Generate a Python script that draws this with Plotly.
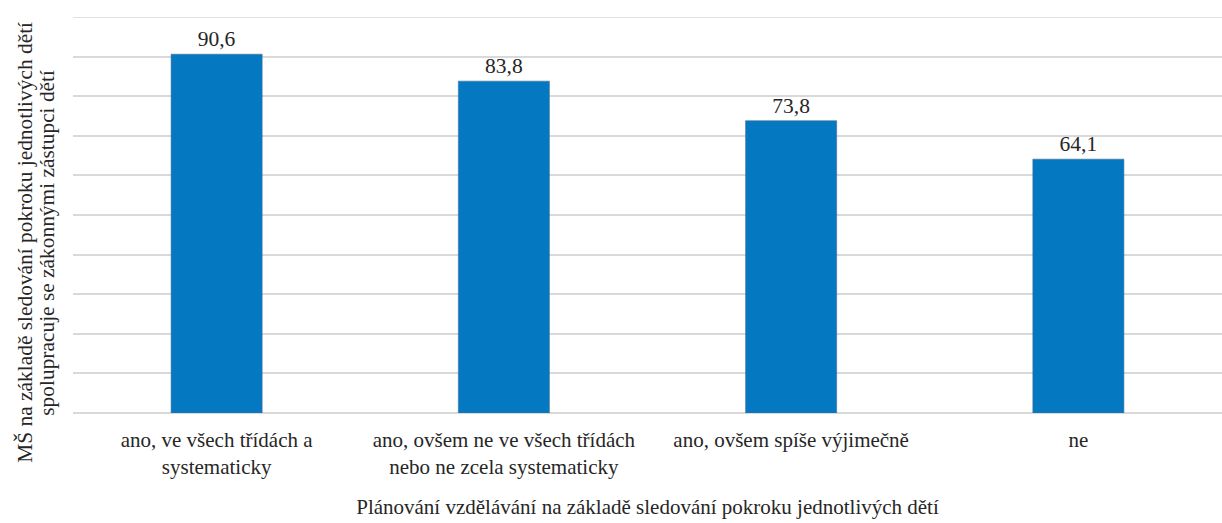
import plotly.graph_objects as go

categories = [
    "ano, ve všech třídách a<br>systematicky",
    "ano, ovšem ne ve všech třídách<br>nebo ne zcela systematicky",
    "ano, ovšem spíše výjimečně",
    "ne",
]
values = [90.6, 83.8, 73.8, 64.1]
y_title_lines = [
    "MŠ na základě sledování pokroku jednotlivých dětí",
    "spolupracuje se zákonnými zástupci dětí",
]
x_title = "Plánování vzdělávání na základě sledování pokroku jednotlivých dětí"

font_family = "Times New Roman"
color = "#262626"
label_font = dict(family=font_family, size=21.5, color=color)
tick_font = dict(family=font_family, size=21, color=color)
title_font = dict(family=font_family, size=21, color=color)
ytitle_font = dict(family=font_family, size=21.4, color=color)

fig = go.Figure(
    go.Bar(
        x=categories,
        y=values,
        marker=dict(color="#0479C1", line=dict(color="#3F6F99", width=0.6)),
        texttemplate="%{y:.1f}",
        textposition="outside",
        textfont=label_font,
        cliponaxis=False,
        width=0.317,
    )
)

annotations = []
for shift, line in zip([-48, -26], y_title_lines):
    annotations.append(
        dict(
            text=line,
            textangle=-90,
            xref="paper", yref="paper",
            x=0, y=0.43,
            xanchor="center", yanchor="middle",
            xshift=shift,
            showarrow=False,
            font=ytitle_font,
        )
    )

fig.update_layout(
    width=1222,
    height=523,
    margin=dict(l=73, r=0, t=17, b=110),
    paper_bgcolor="white",
    plot_bgcolor="white",
    separators=",.",
    showlegend=False,
    font=tick_font,
    xaxis=dict(
        automargin=False,
        showgrid=False,
        showline=False,
        ticks="",
        tickfont=tick_font,
        ticklabelstandoff=12,
        title=dict(text=x_title, standoff=21, font=title_font),
    ),
    yaxis=dict(
        automargin=False,
        range=[0, 100],
        dtick=10,
        showticklabels=False,
        showgrid=True,
        gridcolor="#D9D9D9",
        gridwidth=1.5,
        zeroline=True,
        zerolinecolor="#D9D9D9",
        zerolinewidth=1.5,
        showline=False,
    ),
    shapes=[
        dict(type="line", xref="paper", yref="y", x0=0, x1=1, y0=100, y1=100,
             line=dict(color="#D9D9D9", width=1.5), layer="below")
    ],
    annotations=annotations,
)

fig.write_html(
    "out.html",
    config={"displayModeBar": False},
    post_script="document.body.style.margin='0';",
)
